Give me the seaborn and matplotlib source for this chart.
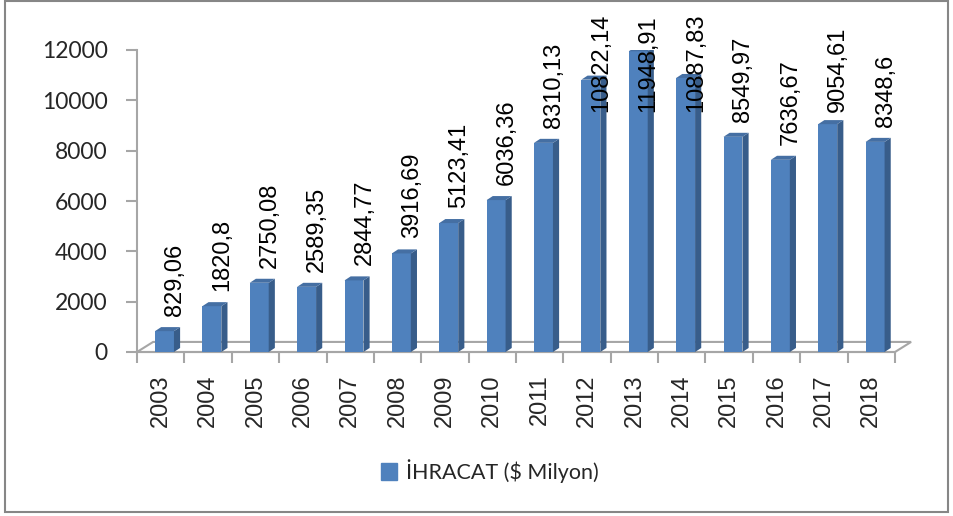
import numpy as np
import pandas as pd
import matplotlib
matplotlib.use("Agg")
import matplotlib.pyplot as plt
import seaborn as sns
from matplotlib.patches import Polygon, Patch, Rectangle

# data
years = [str(y) for y in range(2003, 2019)]
ihracat = [829.06, 1820.8, 2750.08, 2589.35, 2844.77, 3916.69, 5123.41, 6036.36,
           8310.13, 10822.14, 11948.91, 10887.83, 8549.97, 7636.67, 9054.61, 8348.6]
series_name = "İHRACAT ($ Milyon)"
y_ticks = [0, 2000, 4000, 6000, 8000, 10000, 12000]

FRONT = "#4F81BD"
SIDE = "#385D8A"
TOP = "#456FA3"
GREY = "#A6A6A6"

sns.set_style("white")
plt.rcParams["font.family"] = ["Liberation Sans", "DejaVu Sans"]

df = pd.DataFrame({"yil": years, "deger": ihracat})

fig = plt.figure(figsize=(9.54, 5.16), dpi=100)
ax = fig.add_axes([137 / 954, 164 / 516, (895 - 137) / 954, 302 / 516])

sns.barplot(data=df, x="yil", y="deger", color=FRONT, saturation=1,
            width=0.4, edgecolor="none", ax=ax, zorder=3)

# fake 3D: side and top faces derived from each bar
dx, dy = 0.13, 160
for p in ax.patches:
    p.set_x(p.get_x() + 0.08)
    x0, w, h = p.get_x(), p.get_width(), p.get_height()
    ax.add_patch(Polygon([(x0 + w, 0), (x0 + w + dx, dy), (x0 + w + dx, h + dy), (x0 + w, h)],
                         closed=True, facecolor=SIDE, edgecolor="none", zorder=3))
    ax.add_patch(Polygon([(x0, h), (x0 + w, h), (x0 + w + dx, h + dy), (x0 + dx, h + dy)],
                         closed=True, facecolor=TOP, edgecolor="none", zorder=3))

# floor
n = len(years)
fx, fy = 0.34, 400
ax.add_patch(Polygon([(-0.5, 0), (n - 0.5, 0), (n - 0.5 + fx, fy), (-0.5 + fx, fy)],
                     closed=True, facecolor="white", edgecolor=GREY, lw=1.5,
                     zorder=1, clip_on=False))

# data labels
for i, (v, lab) in enumerate(zip(ihracat, [str(v).replace(".", ",") for v in ihracat])):
    ax.text(i + 0.3, min(v + 600, 9550), lab, rotation=90, ha="center", va="bottom",
            fontsize=17, color="black", zorder=5, clip_on=False)

ax.set_xlim(-0.5, n - 0.5)
ax.set_ylim(0, 12000)
ax.set_xlabel("")
ax.set_ylabel("")

ax.set_xticks(np.arange(-0.5, n, 1), labels=[])
ax.set_xticks(np.arange(n), labels=years, minor=True)
ax.tick_params(axis="x", which="major", direction="out", length=8, width=1.5, color=GREY, bottom=True)
ax.tick_params(axis="x", which="minor", length=0, pad=16, labelsize=17, labelrotation=90)

ax.set_yticks(y_ticks)
ax.set_yticklabels([str(t) for t in y_ticks], fontfamily=["Lato", "DejaVu Sans"])
ax.tick_params(axis="y", direction="out", length=8, width=1.5, color=GREY, left=True,
               pad=13, labelsize=16.5)

for side in ["top", "right"]:
    ax.spines[side].set_visible(False)
for side in ["left", "bottom"]:
    ax.spines[side].set_color(GREY)
    ax.spines[side].set_linewidth(1.5)

fig.legend(handles=[Patch(color=FRONT, label=series_name)], loc="center",
           bbox_to_anchor=(490 / 954, 1 - 471 / 516), frameon=False,
           prop={"family": ["Lato", "DejaVu Sans"], "size": 15.5},
           handlelength=0.75, handleheight=0.9, handletextpad=0.4)

# outer chart border
fig.patches.append(Rectangle((5 / 954, 4 / 516), 943 / 954, 511 / 516, transform=fig.transFigure,
                             fill=False, edgecolor="#868686", lw=1.5))

fig.savefig("out.png", dpi=100)
